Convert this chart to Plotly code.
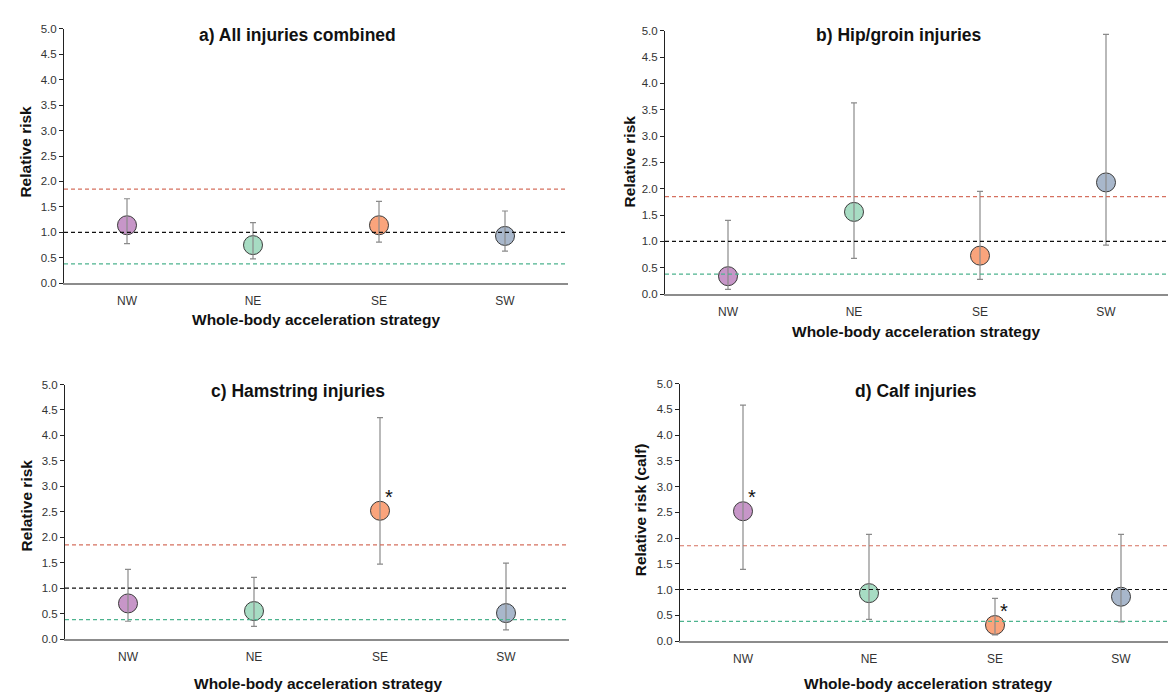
import plotly.graph_objects as go

W, H = 1176, 697

categories = ["NW", "NE", "SE", "SW"]
colors = ["#C796C8", "#A7DCC3", "#FAA47C", "#A8B7CB"]

titles = ["a) All injuries combined", "b) Hip/groin injuries",
          "c) Hamstring injuries", "d) Calf injuries"]
ytitles = ["Relative risk", "Relative risk", "Relative risk", "Relative risk (calf)"]
xtitle = "Whole-body acceleration strategy"

# relative risk (point estimate) and 95% CI bounds per panel
rr_all = [1.14, 0.75, 1.14, 0.93]
lo_all = [0.78, 0.48, 0.81, 0.63]
hi_all = [1.66, 1.19, 1.61, 1.42]

rr_hip = [0.34, 1.56, 0.73, 2.12]
lo_hip = [0.09, 0.68, 0.28, 0.93]
hi_hip = [1.40, 3.63, 1.95, 4.93]

rr_ham = [0.70, 0.55, 2.52, 0.51]
lo_ham = [0.35, 0.25, 1.47, 0.18]
hi_ham = [1.37, 1.21, 4.35, 1.49]

rr_calf = [2.52, 0.93, 0.31, 0.86]
lo_calf = [1.39, 0.42, 0.12, 0.37]
hi_calf = [4.58, 2.07, 0.83, 2.07]

significant = [[0, 0, 0, 0], [0, 0, 0, 0], [0, 0, 1, 0], [1, 0, 1, 0]]

# reference lines
ref_upper = 1.85
ref_null = 1.0
ref_lower = 0.38

panels = [(rr_all, lo_all, hi_all), (rr_hip, lo_hip, hi_hip),
          (rr_ham, lo_ham, hi_ham), (rr_calf, lo_calf, hi_calf)]

# pixel boxes of plot areas: (x0, x1, ytop, ybottom)
boxes = [(56, 560, 15, 274), (657, 1161, 17, 285),
         (57, 561, 377, 636), (672, 1176, 376, 638)]
title_pos = [(289, 21), (891, 21), (290, 384), (908, 384)]
ytitle_pos = [(18, 140), (621, 150), (18, 500), (632, 505)]
xtitle_pos = [(308, 311), (908, 323), (310, 681), (920, 681)]

fig = go.Figure()
FONT = "Liberation Sans, Arial, sans-serif"

for i, (rr, lo, hi) in enumerate(panels):
    n = "" if i == 0 else str(i + 1)
    xa, ya = "x" + n, "y" + n
    up = [h - v for h, v in zip(hi, rr)]
    dn = [v - l for v, l in zip(rr, lo)]
    fig.add_trace(go.Scatter(
        x=categories, y=rr, mode="markers", xaxis=xa, yaxis=ya,
        marker=dict(size=19, color=colors, line=dict(color="#3a3a3a", width=1)),
        showlegend=False, hoverinfo="skip"))
    fig.add_trace(go.Scatter(
        x=categories, y=rr, mode="markers", xaxis=xa, yaxis=ya,
        marker=dict(size=1, opacity=0),
        error_y=dict(type="data", symmetric=False, array=up, arrayminus=dn,
                     color="#8a8a8a", thickness=1.2, width=3),
        showlegend=False, hoverinfo="skip"))

    x0, x1, yt, yb = boxes[i]
    fig.layout["xaxis" + n] = dict(
        domain=[x0 / W, x1 / W], anchor=ya, type="category",
        range=[-0.5, 3.5], showgrid=False, zeroline=False,
        showline=True, linecolor="#8c8c8c", linewidth=1.5,
        ticks="outside", ticklen=6, tickcolor="rgba(0,0,0,0)",
        tickfont=dict(family=FONT, size=12, color="#333"), fixedrange=True)
    fig.layout["yaxis" + n] = dict(
        domain=[1 - yb / H, 1 - yt / H], anchor=xa, range=[0, 5],
        tickvals=[0, 0.5, 1, 1.5, 2, 2.5, 3, 3.5, 4, 4.5, 5],
        tickformat=".1f", showgrid=False, zeroline=False,
        showline=True, linecolor="#222", linewidth=1,
        ticks="outside", ticklen=4, tickcolor="#222",
        tickfont=dict(family=FONT, size=11.5, color="#333"), fixedrange=True)

    for val, col in [(ref_upper, "#D5705F"), (ref_null, "#111111"), (ref_lower, "#4DB38E")]:
        fig.add_shape(type="line", xref=xa + " domain", yref=ya,
                      x0=0, x1=1, y0=val, y1=val,
                      line=dict(color=col, width=1.2, dash="4px,3px"))

    for j, s in enumerate(significant[i]):
        if s:
            fig.add_annotation(x=categories[j], y=rr[j], xref=xa, yref=ya,
                               text="*", showarrow=False, xshift=9, yshift=14,
                               font=dict(family=FONT, size=20, color="#111"))

    tx, ty = title_pos[i]
    fig.add_annotation(x=tx / W, y=1 - ty / H, xref="paper", yref="paper",
                       text="<b>%s</b>" % titles[i], showarrow=False,
                       xanchor="center", yanchor="middle",
                       font=dict(family=FONT, size=17.5, color="#111"))
    yx, yy = ytitle_pos[i]
    fig.add_annotation(x=yx / W, y=1 - yy / H, xref="paper", yref="paper",
                       text="<b>%s</b>" % ytitles[i], showarrow=False, textangle=-90,
                       xanchor="center", yanchor="middle",
                       font=dict(family=FONT, size=15.5, color="#111"))
    xx, xy = xtitle_pos[i]
    fig.add_annotation(x=xx / W, y=1 - xy / H, xref="paper", yref="paper",
                       text="<b>%s</b>" % xtitle, showarrow=False,
                       xanchor="center", yanchor="middle",
                       font=dict(family=FONT, size=15.5, color="#111"))

fig.update_layout(width=W, height=H, margin=dict(l=0, r=0, t=0, b=0),
                  paper_bgcolor="white", plot_bgcolor="white",
                  font=dict(family=FONT))
fig.write_html("out.html")
